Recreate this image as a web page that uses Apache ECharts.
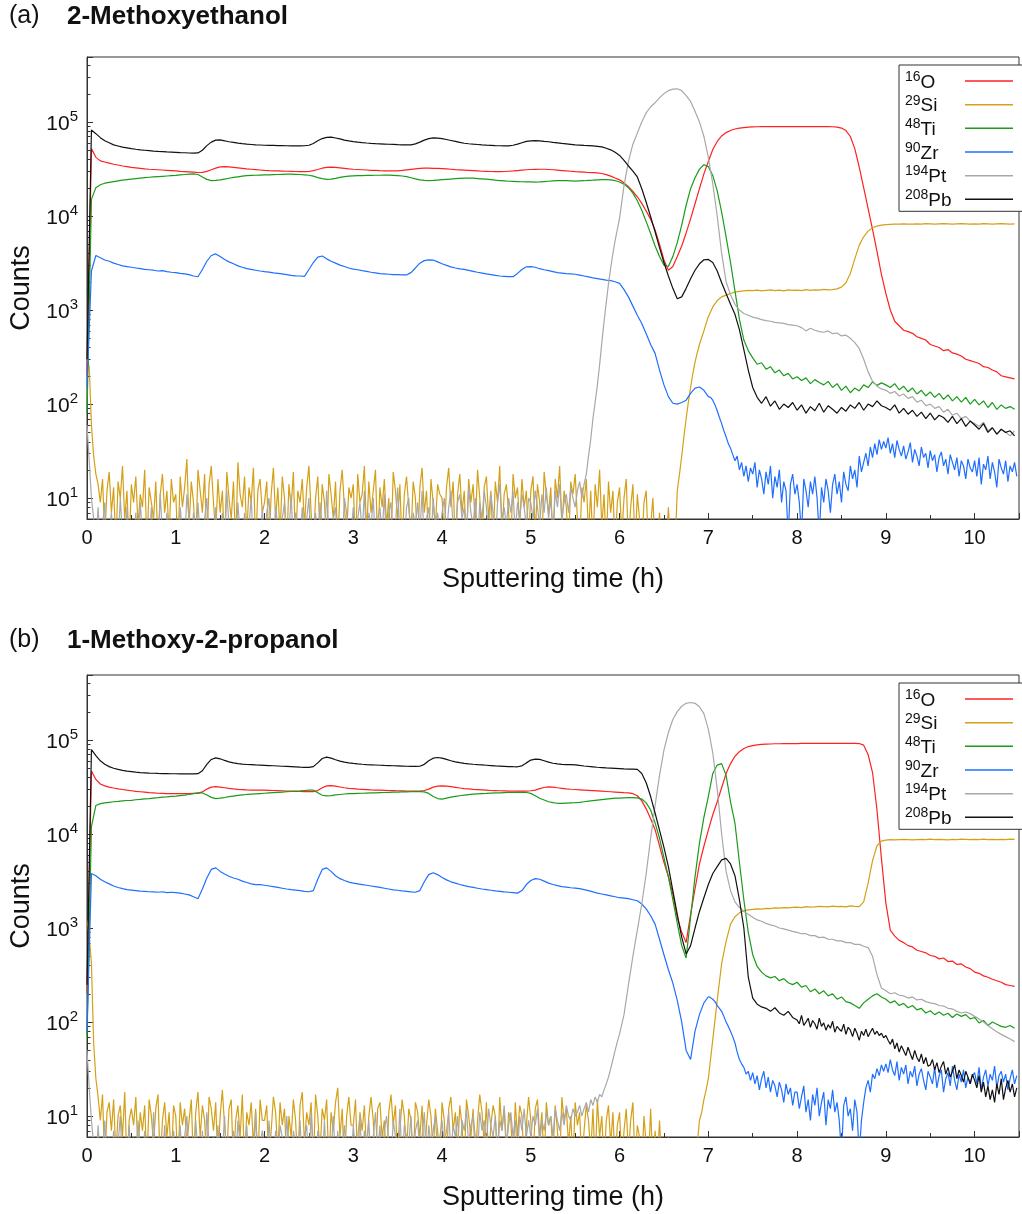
<!DOCTYPE html>
<html>
<head>
<meta charset="utf-8">
<title>SIMS depth profiles</title>
<script src="https://cdn.jsdelivr.net/npm/echarts@6/dist/echarts.min.js"></script>
<style>
    html, body { margin: 0; padding: 0; background: #fff; }
    #chart { width: 1022px; height: 1214px; }
</style>
</head>
<body>
<div id="chart"></div>
<script>
// isotopes, legend order
var masses = ['16', '29', '48', '90', '194', '208'];
var elements = ['O', 'Si', 'Ti', 'Zr', 'Pt', 'Pb'];
var colors = ['#ff2020', '#d4a017', '#1a9c1a', '#1f6fff', '#a8a8a8', '#111111'];
var names = masses.map(function (m, i) { return m + elements[i]; });

// panel titles
var panelTags = ['(a)', '(b)'];
var panelTitles = ['2-Methoxyethanol', '1-Methoxy-2-propanol'];

// axes
var xMin = 0, xMax = 10.5, xStep = 1;
var yMin = 6, yMax = 490000;

// counts: one row per hour (rows 0-9), last row = 10.0-10.5 h.
// rows of 20 values -> every 0.05 h, rows of 40 -> every 0.025 h (noisy parts)

// ---- (a) 2-Methoxyethanol ----
var aO = [
    [200, 52000, 42000, 38500, 37500, 36500, 35500, 34800, 34000, 33500, 32900, 32500, 32100, 31700, 31400, 31200, 31000, 30800, 30600, 30400],
    [30100, 29800, 29600, 29400, 29200, 29000, 29100, 29800, 31000, 32300, 33200, 33500, 33300, 32900, 32500, 32100, 31700, 31400, 31100, 30800],
    [30500, 30300, 30200, 30100, 30000, 29900, 29800, 29700, 29600, 29600, 29700, 30300, 31200, 32200, 32900, 33100, 32900, 32500, 32100, 31700],
    [31400, 31200, 31000, 30800, 30600, 30500, 30300, 30200, 30100, 30100, 30200, 30500, 30900, 31300, 31700, 32000, 32200, 32200, 32100, 32000],
    [31900, 31700, 31400, 31100, 30900, 30700, 30500, 30300, 30100, 29900, 29800, 29700, 29600, 29600, 29700, 29900, 30100, 30400, 30700, 31000],
    [31200, 31300, 31400, 31400, 31200, 31000, 30700, 30400, 30100, 29900, 29600, 29400, 29200, 29000, 28900, 28700, 28300, 27500, 26500, 25300],
    [24200, 22500, 20500, 18200, 16000, 13600, 11300, 9200, 7100, 5000, 3400, 2650, 2900, 3700, 4800, 6600, 9300, 13500, 19500, 28000],
    [38000, 51000, 62000, 71000, 77000, 81000, 84000, 86000, 87000, 88000, 88500, 88800, 89000, 89000, 89000, 89000, 89000, 89000, 89000, 89000],
    [89000, 89000, 89000, 89000, 89000, 89000, 89000, 89000, 88800, 88000, 86000, 81000, 70000, 52000, 33000, 20000, 12000, 7200, 4200, 2400],
    [1500, 1000, 760, 680, 610, 590, 565, 520, 500, 480, 430, 415, 400, 370, 380, 350, 340, 325, 300, 290],
    [280, 270, 250, 245, 230, 220, 200, 195, 190, 185]
];
var aSi = [
    [300, 250, 60, 28, 18, 14, 9, 16, 4, 12, 19, 7, 13, 3, 15, 10, 22, 6, 12, 3, 14, 9, 17, 5, 11, 8, 20, 3, 13, 9, 6, 15, 3, 11, 18, 7, 12, 4, 16, 9],
    [11, 3, 17, 8, 13, 26, 5, 15, 9, 3, 20, 12, 7, 18, 3, 14, 22, 9, 4, 16, 7, 12, 3, 19, 10, 6, 15, 3, 24, 11, 8, 17, 4, 13, 9, 21, 3, 12, 16, 7],
    [9, 15, 3, 11, 21, 6, 13, 4, 17, 10, 3, 14, 8, 19, 3, 12, 9, 16, 5, 13, 22, 7, 3, 10, 17, 4, 14, 9, 3, 18, 11, 6, 15, 3, 12, 20, 8, 4, 13, 10],
    [14, 3, 18, 9, 11, 22, 4, 15, 7, 12, 20, 3, 13, 8, 16, 5, 10, 3, 19, 12, 6, 14, 3, 11, 17, 8, 4, 15, 10, 3, 13, 21, 7, 12, 3, 16, 9, 5, 14, 11],
    [10, 4, 13, 21, 8, 15, 3, 11, 18, 7, 12, 3, 16, 9, 14, 5, 20, 10, 3, 13, 17, 6, 12, 3, 15, 9, 22, 4, 11, 14, 7, 3, 18, 10, 13, 5, 16, 8, 12, 3],
    [12, 17, 4, 14, 9, 3, 19, 11, 7, 13, 3, 16, 10, 22, 5, 12, 8, 3, 15, 11, 18, 6, 3, 13, 9, 16, 4, 12, 3, 14, 8, 20, 5, 11, 3, 15, 7, 12, 3, 9],
    [13, 4, 10, 16, 3, 8, 14, 3, 11, 6, 3, 9, 12, 3, 5, 10, 3, 3, 7, 3, 3, 3, 8, 3, 3, 3, 12, 18, 28, 45, 70, 105, 150, 210, 280, 350, 430, 510, 600, 720],
    [850, 1080, 1260, 1380, 1440, 1500, 1550, 1580, 1600, 1620, 1610, 1630, 1600, 1620, 1640, 1610, 1630, 1600, 1640, 1620],
    [1630, 1610, 1650, 1620, 1640, 1630, 1660, 1640, 1650, 1680, 1750, 1950, 2450, 3500, 4900, 6000, 6900, 7500, 7800, 8000],
    [8100, 8150, 8200, 8200, 8250, 8200, 8200, 8250, 8200, 8300, 8250, 8200, 8250, 8300, 8250, 8200, 8250, 8300, 8250, 8200],
    [8250, 8200, 8300, 8250, 8200, 8250, 8300, 8250, 8200, 8250]
];
var aTi = [
    [80, 15000, 20000, 21500, 22300, 22800, 23200, 23600, 24000, 24400, 24700, 25000, 25300, 25600, 25800, 26000, 26200, 26400, 26600, 26800],
    [27000, 27300, 27600, 27800, 28000, 27600, 26000, 24500, 23800, 23900, 24200, 24700, 25200, 25700, 26100, 26500, 26800, 27000, 27100, 27200],
    [27300, 27400, 27500, 27600, 27700, 27800, 27800, 27700, 27600, 27400, 27100, 26500, 25600, 24900, 24500, 24600, 25100, 25700, 26200, 26500],
    [26700, 26800, 26900, 27000, 27000, 27100, 27100, 27200, 27200, 27000, 26800, 26600, 26200, 25500, 24800, 24200, 23900, 23800, 23900, 24100],
    [24300, 24500, 24700, 24900, 25100, 25200, 25300, 25200, 25000, 24800, 24600, 24300, 24000, 23800, 23600, 23400, 23300, 23200, 23100, 23000],
    [23000, 22900, 23000, 23200, 23400, 23600, 23800, 23800, 23700, 23600, 23500, 23600, 23700, 23900, 24000, 24200, 24300, 24300, 24200, 23800],
    [23000, 21800, 20000, 17500, 14500, 11500, 8700, 6500, 4800, 3700, 3000, 2900, 3700, 5200, 8000, 13000, 19500, 25500, 31500, 35000],
    [33500, 27000, 18500, 11000, 6000, 3200, 1600, 800, 480, 370, 310, 265, 275, 235, 250, 215, 230, 200, 212, 185],
    [195, 178, 190, 165, 182, 170, 160, 174, 150, 165, 140, 155, 132, 148, 138, 160, 150, 172, 158, 168],
    [160, 150, 165, 142, 155, 135, 148, 128, 140, 122, 135, 118, 130, 112, 125, 108, 120, 105, 118, 100],
    [112, 98, 108, 92, 104, 88, 98, 90, 94, 88]
];
var aZr = [
    [150, 2600, 3800, 3600, 3400, 3300, 3150, 3050, 2950, 2900, 2850, 2800, 2750, 2700, 2680, 2650, 2600, 2620, 2560, 2520],
    [2500, 2450, 2420, 2380, 2300, 2260, 2700, 3300, 3800, 3950, 3700, 3450, 3250, 3100, 2950, 2850, 2760, 2700, 2650, 2600],
    [2560, 2530, 2480, 2450, 2420, 2380, 2340, 2310, 2300, 2280, 2700, 3200, 3650, 3750, 3500, 3300, 3150, 3000, 2900, 2800],
    [2720, 2680, 2620, 2580, 2520, 2480, 2440, 2420, 2400, 2380, 2380, 2370, 2360, 2500, 2800, 3150, 3350, 3420, 3400, 3250],
    [3100, 2980, 2880, 2800, 2740, 2700, 2640, 2580, 2520, 2470, 2420, 2380, 2340, 2300, 2280, 2260, 2260, 2450, 2700, 2880],
    [2900, 2850, 2750, 2680, 2620, 2560, 2500, 2470, 2440, 2420, 2400, 2350, 2300, 2250, 2200, 2160, 2120, 2080, 2050, 2000],
    [1920, 1650, 1380, 1100, 880, 720, 560, 430, 346, 230, 160, 120, 102, 100, 104, 110, 130, 148, 152, 140],
    [120, 118, 110, 98, 85, 72, 62, 52, 45, 38, 34, 29, 25, 28, 20, 24, 17, 22, 15, 21, 18, 24, 13, 20, 16, 11, 19, 14, 22, 10, 17, 13, 20, 9, 15, 12, 4, 14, 18, 11],
    [14, 9, 4, 16, 12, 8, 15, 11, 17, 10, 4, 13, 9, 16, 12, 7, 14, 18, 11, 15, 9, 19, 14, 12, 22, 16, 20, 13, 28, 19, 24, 30, 22, 35, 27, 38, 29, 42, 33, 40],
    [34, 44, 30, 38, 27, 41, 33, 28, 36, 26, 31, 39, 24, 33, 28, 22, 35, 27, 30, 21, 32, 25, 29, 19, 27, 31, 22, 26, 18, 29, 24, 20, 27, 17, 25, 22, 16, 26, 21, 19],
    [25, 17, 27, 14, 23, 20, 28, 16, 24, 19, 13, 26, 21, 18, 25, 15, 22, 19, 24, 17]
];
var aPt = [
    [60, 25, 10, 6, 3, 8, 3, 5, 9, 3, 4, 7, 3, 6, 3, 10, 4, 3, 8, 3, 5, 3, 7, 3, 9, 4, 3, 6, 3, 8, 3, 5, 3, 11, 4, 3, 7, 3, 6, 3],
    [5, 3, 8, 4, 3, 11, 6, 3, 7, 3, 9, 4, 3, 6, 10, 3, 5, 3, 8, 3, 4, 7, 3, 12, 5, 3, 6, 3, 9, 4, 3, 7, 3, 5, 10, 3, 6, 4, 3, 8],
    [3, 7, 10, 4, 3, 8, 5, 3, 6, 9, 3, 4, 11, 3, 7, 5, 3, 8, 3, 6, 10, 3, 4, 7, 3, 9, 5, 3, 12, 4, 3, 6, 8, 3, 5, 3, 10, 7, 3, 4],
    [8, 3, 6, 9, 4, 12, 3, 7, 5, 10, 3, 6, 8, 4, 11, 3, 7, 9, 3, 5, 13, 4, 6, 3, 8, 10, 3, 7, 5, 9, 4, 12, 3, 6, 8, 3, 10, 5, 7, 4],
    [7, 10, 4, 8, 12, 5, 3, 9, 11, 6, 8, 4, 13, 7, 5, 10, 3, 9, 6, 12, 8, 4, 11, 7, 3, 9, 14, 6, 8, 5, 10, 7, 12, 4, 9, 6, 11, 8, 5, 10],
    [9, 6, 12, 8, 5, 11, 7, 13, 6, 10, 4, 12, 8, 14, 6, 9, 11, 7, 13, 10, 8, 12, 15, 10, 14, 18, 28, 42, 70, 105, 160, 260, 450, 750, 1200, 1900, 2800, 4000, 5500, 7200],
    [9500, 21000, 38000, 58000, 76000, 100000, 125000, 145000, 160000, 180000, 200000, 215000, 223000, 225000, 215000, 190000, 165000, 130000, 100000, 70000],
    [42000, 22000, 10000, 4000, 2000, 1450, 1150, 1000, 920, 880, 840, 820, 790, 770, 760, 740, 730, 720, 700, 690],
    [680, 650, 600, 640, 610, 590, 580, 600, 560, 570, 530, 540, 500, 450, 390, 300, 220, 175, 155, 145],
    [140, 130, 136, 122, 128, 115, 120, 105, 110, 96, 100, 90, 94, 82, 88, 76, 80, 70, 74, 66],
    [62, 58, 64, 52, 56, 48, 54, 50, 46, 52]
];
var aPb = [
    [300, 82000, 75000, 68000, 63000, 60000, 57000, 55500, 54000, 53000, 52000, 51200, 50500, 50000, 49500, 49000, 48600, 48300, 48000, 47800],
    [47500, 47200, 47000, 46700, 46500, 46800, 50000, 56000, 61000, 64000, 64300, 63000, 61500, 60500, 59500, 58700, 58000, 57500, 57000, 56800],
    [56500, 56300, 56200, 56000, 55900, 55800, 55700, 55600, 55600, 55800, 56500, 59000, 63000, 66500, 68500, 68800, 67500, 66000, 64000, 62800],
    [61800, 61000, 60300, 59700, 59200, 58800, 58500, 58200, 57900, 57600, 57300, 57100, 57000, 57000, 58500, 61000, 64000, 66500, 67600, 67300],
    [66500, 65000, 63500, 62000, 60500, 59300, 58600, 58000, 57500, 57000, 56600, 56300, 56000, 55800, 55600, 55600, 56500, 58000, 60000, 62000],
    [63000, 63300, 63000, 62000, 61500, 60500, 59800, 59000, 58500, 57800, 57000, 56700, 56300, 56000, 55600, 55000, 54200, 52500, 50500, 47500],
    [44000, 39000, 34000, 30000, 26000, 19500, 14000, 9800, 6800, 4600, 3200, 2300, 1700, 1320, 1380, 1700, 2150, 2650, 3100, 3420],
    [3450, 3200, 2600, 1950, 1500, 1150, 900, 620, 380, 230, 150, 118, 102, 120, 95, 108, 88, 100, 92, 104],
    [86, 98, 80, 94, 85, 102, 82, 96, 88, 80, 92, 84, 98, 90, 104, 86, 100, 94, 108, 96],
    [92, 86, 98, 80, 90, 78, 86, 74, 82, 70, 80, 68, 76, 72, 64, 74, 62, 70, 58, 66],
    [60, 54, 62, 50, 56, 48, 54, 50, 52, 46]
];

// ---- (b) 1-Methoxy-2-propanol ----
var bO = [
    [200, 46800, 38000, 34000, 32500, 31500, 30800, 30200, 29700, 29200, 28800, 28400, 28100, 27800, 27500, 27300, 27100, 27000, 26900, 26900],
    [26800, 26800, 26900, 26900, 27000, 27000, 28000, 30000, 31500, 31900, 31500, 31000, 30500, 30100, 29800, 29600, 29400, 29300, 29300, 29200],
    [29200, 29100, 29000, 28900, 28800, 28600, 28500, 28400, 28300, 28200, 28200, 28200, 29000, 31000, 32500, 32700, 32200, 31600, 31000, 30600],
    [30300, 30000, 29800, 29600, 29400, 29300, 29200, 29100, 29000, 28900, 28800, 28700, 28600, 28500, 28500, 28600, 29000, 30000, 31500, 32300],
    [32500, 32300, 31800, 31300, 30800, 30400, 30100, 29800, 29600, 29400, 29200, 29000, 28900, 28800, 28700, 28600, 28600, 28500, 28500, 28600],
    [28800, 29300, 30300, 31200, 31700, 31500, 31000, 30600, 30200, 29900, 29700, 29500, 29300, 29100, 28900, 28700, 28500, 28300, 28100, 27900],
    [27700, 27500, 27400, 26800, 25500, 22500, 18500, 14500, 11100, 7500, 5000, 3530, 2300, 1300, 900, 700, 1400, 2600, 4800, 7400],
    [11000, 16000, 22000, 31000, 44000, 56000, 67000, 75000, 81000, 85000, 87000, 88500, 89500, 90000, 90500, 91000, 91000, 91500, 91500, 91500],
    [91500, 91700, 91700, 91700, 91700, 91700, 91700, 91700, 91700, 91700, 91700, 91700, 91700, 91700, 91500, 88000, 70000, 45000, 18000, 5500],
    [1840, 950, 820, 740, 700, 650, 630, 580, 563, 545, 510, 500, 470, 480, 440, 445, 410, 415, 385, 370],
    [340, 330, 310, 300, 285, 275, 265, 250, 245, 240]
];
var bSi = [
    [1200, 800, 420, 60, 25, 16, 9, 17, 3, 11, 14, 7, 15, 4, 10, 13, 6, 18, 3, 9, 12, 8, 16, 4, 11, 7, 13, 3, 15, 10, 5, 12, 17, 3, 9, 14, 6, 11, 3, 13],
    [10, 3, 14, 8, 12, 5, 9, 15, 3, 11, 18, 6, 13, 9, 3, 16, 12, 7, 14, 3, 10, 19, 8, 4, 12, 15, 3, 9, 13, 6, 17, 3, 11, 8, 14, 5, 12, 3, 15, 9],
    [9, 13, 3, 7, 16, 11, 4, 14, 8, 12, 3, 10, 6, 15, 9, 3, 13, 18, 5, 11, 8, 14, 3, 17, 10, 4, 12, 9, 15, 3, 11, 7, 14, 20, 6, 12, 3, 10, 16, 8],
    [8, 15, 3, 11, 7, 13, 4, 10, 16, 9, 3, 12, 14, 6, 9, 3, 11, 17, 8, 13, 3, 7, 15, 10, 4, 12, 9, 3, 14, 11, 6, 13, 3, 8, 15, 10, 4, 12, 7, 3],
    [14, 9, 3, 12, 16, 7, 11, 4, 13, 8, 3, 15, 10, 6, 12, 3, 9, 17, 11, 5, 14, 3, 8, 13, 10, 3, 16, 7, 12, 4, 11, 9, 3, 14, 6, 13, 10, 3, 8, 16],
    [9, 3, 12, 15, 6, 11, 3, 14, 8, 10, 4, 13, 7, 3, 16, 9, 12, 5, 10, 3, 14, 8, 11, 3, 7, 13, 9, 4, 12, 3, 15, 6, 10, 3, 9, 13, 5, 11, 3, 8],
    [11, 3, 7, 12, 4, 9, 14, 3, 8, 6, 3, 10, 5, 3, 12, 3, 7, 3, 9, 3, 3, 3, 6, 3, 3, 3, 3, 3, 3, 3, 3, 3, 3, 3, 3, 5, 9, 11, 15, 19],
    [25, 65, 170, 420, 720, 1100, 1320, 1450, 1520, 1560, 1580, 1600, 1590, 1620, 1610, 1640, 1630, 1650, 1640, 1660],
    [1670, 1650, 1690, 1670, 1680, 1700, 1690, 1680, 1710, 1690, 1700, 1680, 1720, 1700, 1690, 1900, 3000, 5200, 7500, 8400],
    [8600, 8700, 8650, 8700, 8750, 8700, 8650, 8700, 8750, 8700, 8800, 8700, 8750, 8700, 8650, 8750, 8700, 8800, 8750, 8700],
    [8750, 8700, 8800, 8700, 8750, 8700, 8750, 8700, 8800, 8750]
];
var bTi = [
    [70, 12000, 20100, 21000, 21400, 21700, 22000, 22200, 22500, 22700, 22800, 23100, 23300, 23600, 23800, 24100, 24300, 24600, 24800, 25100],
    [25300, 25600, 25900, 26300, 26800, 27400, 27300, 26000, 24500, 23800, 24000, 24400, 24900, 25300, 25700, 26000, 26300, 26500, 26700, 26900],
    [27100, 27300, 27500, 27700, 27900, 28100, 28300, 28500, 28700, 29000, 29300, 29200, 27500, 25800, 25400, 25600, 26000, 26300, 26600, 26800],
    [26900, 27000, 27100, 27200, 27300, 27400, 27500, 27600, 27700, 27800, 27900, 28000, 28000, 28100, 28200, 28200, 28000, 27000, 25000, 23800],
    [23500, 24000, 24600, 25100, 25500, 25900, 26200, 26500, 26700, 26900, 27000, 27200, 27300, 27400, 27500, 27600, 27600, 27700, 27700, 27600],
    [27000, 25500, 24000, 23000, 22000, 21500, 21200, 21200, 21300, 21400, 21500, 21700, 22000, 22300, 22600, 22900, 23200, 23500, 23800, 24000],
    [24100, 24200, 24300, 24300, 24200, 23500, 21400, 18000, 13100, 9000, 5600, 3500, 2000, 1125, 650, 480, 1300, 3500, 8000, 15000],
    [25000, 44000, 54000, 56000, 42000, 22000, 13000, 5000, 2000, 900, 520, 390, 340, 310, 295, 305, 275, 290, 262, 250],
    [265, 235, 245, 210, 225, 200, 215, 190, 200, 175, 185, 165, 160, 150, 140, 160, 175, 190, 200, 185],
    [175, 160, 168, 150, 158, 142, 150, 135, 140, 125, 132, 120, 128, 118, 124, 112, 122, 115, 120, 108],
    [112, 98, 104, 92, 100, 95, 90, 88, 92, 86]
];
var bZr = [
    [80, 3800, 3600, 3300, 3100, 2950, 2800, 2700, 2620, 2560, 2530, 2500, 2470, 2450, 2430, 2420, 2400, 2430, 2380, 2400],
    [2380, 2350, 2300, 2250, 2150, 2050, 2600, 3400, 4200, 4360, 4000, 3750, 3550, 3400, 3300, 3150, 3050, 2950, 2900, 2890],
    [2850, 2800, 2750, 2700, 2650, 2600, 2560, 2530, 2500, 2450, 2430, 2500, 3300, 4200, 4360, 4000, 3600, 3350, 3200, 3080],
    [3000, 2950, 2900, 2850, 2800, 2750, 2700, 2650, 2600, 2550, 2520, 2480, 2450, 2420, 2400, 2500, 3100, 3700, 3870, 3700],
    [3450, 3250, 3100, 3000, 2900, 2820, 2750, 2700, 2650, 2600, 2560, 2520, 2480, 2450, 2420, 2400, 2380, 2350, 2500, 2900],
    [3200, 3350, 3300, 3150, 3000, 2900, 2820, 2760, 2720, 2680, 2660, 2620, 2560, 2500, 2420, 2350, 2300, 2250, 2200, 2150],
    [2100, 2080, 2050, 2000, 1950, 1800, 1600, 1350, 1100, 760, 520, 360, 260, 170, 100, 50, 40, 80, 120, 160],
    [186, 182, 175, 165, 150, 140, 130, 115, 100, 90, 80, 70, 60, 48, 40, 36, 33, 28, 30, 24, 29, 22, 27, 19, 25, 30, 20, 26, 18, 24, 21, 16, 23, 19, 14, 22, 17, 20, 13, 18],
    [18, 12, 16, 21, 11, 15, 9, 17, 13, 20, 10, 14, 18, 8, 15, 12, 19, 11, 14, 9, 4, 13, 16, 10, 12, 7, 15, 11, 4, 9, 14, 20, 24, 18, 28, 25, 32, 27, 35, 30],
    [36, 29, 40, 31, 27, 38, 24, 33, 28, 35, 22, 30, 26, 34, 21, 28, 32, 24, 19, 30, 26, 22, 33, 20, 27, 31, 18, 25, 29, 21, 34, 24, 19, 28, 23, 31, 20, 26, 22, 27],
    [29, 22, 33, 19, 26, 31, 21, 28, 24, 34, 20, 27, 30, 23, 28, 19, 25, 31, 22, 27]
];
var bPt = [
    [50, 20, 9, 5, 3, 8, 3, 4, 9, 3, 6, 3, 7, 3, 5, 10, 3, 4, 3, 8, 3, 6, 3, 9, 4, 3, 7, 3, 5, 3, 11, 3, 6, 4, 3, 8, 3, 5, 3, 7],
    [4, 3, 8, 3, 6, 10, 3, 5, 3, 9, 4, 3, 7, 3, 11, 5, 3, 6, 3, 8, 3, 4, 10, 3, 6, 3, 7, 3, 9, 5, 3, 4, 8, 3, 6, 3, 11, 3, 5, 7],
    [5, 3, 9, 4, 3, 7, 3, 8, 6, 3, 10, 4, 3, 7, 5, 3, 9, 3, 6, 8, 3, 11, 4, 3, 7, 5, 3, 9, 3, 6, 4, 10, 3, 7, 3, 5, 8, 3, 6, 3],
    [8, 4, 6, 10, 3, 7, 5, 9, 3, 6, 11, 4, 8, 3, 7, 10, 5, 3, 9, 6, 4, 12, 3, 8, 6, 5, 10, 3, 7, 9, 4, 6, 11, 3, 8, 5, 7, 10, 4, 6],
    [9, 5, 7, 11, 4, 8, 6, 10, 3, 9, 7, 12, 5, 8, 10, 6, 4, 11, 7, 9, 5, 12, 8, 6, 10, 4, 9, 7, 13, 5, 8, 11, 6, 9, 4, 10, 7, 12, 6, 9],
    [6, 10, 8, 12, 5, 9, 7, 11, 8, 10, 6, 12, 9, 7, 11, 8, 13, 10, 9, 12, 10, 11, 13, 10, 12, 14, 11, 15, 13, 16, 14, 17, 16, 19, 22, 26, 32, 40, 50, 62],
    [75, 120, 250, 500, 950, 1800, 3800, 9000, 20000, 42000, 78000, 120000, 165000, 200000, 228000, 245000, 250000, 245000, 225000, 190000],
    [130000, 73000, 30000, 10000, 4000, 2500, 1900, 1650, 1500, 1400, 1300, 1220, 1180, 1120, 1080, 1050, 1000, 980, 950, 920],
    [900, 870, 870, 830, 830, 790, 800, 760, 760, 730, 730, 700, 700, 670, 670, 640, 620, 500, 320, 230],
    [215, 200, 205, 193, 190, 180, 185, 172, 175, 165, 160, 157, 150, 148, 140, 138, 130, 125, 128, 123],
    [115, 108, 100, 92, 85, 79, 74, 70, 66, 62]
];
var bPb = [
    [250, 78800, 68000, 60000, 55000, 52000, 50000, 48700, 47500, 46600, 46000, 45400, 45000, 44700, 44400, 44200, 44000, 43900, 43800, 43700],
    [43700, 43600, 43600, 43600, 43600, 43800, 47000, 55000, 62000, 64500, 63000, 60500, 58500, 57000, 56000, 55200, 54800, 54500, 54200, 54000],
    [53700, 53400, 53100, 52800, 52500, 52200, 51900, 51600, 51300, 51100, 51000, 52000, 57000, 63500, 65600, 64000, 61500, 59500, 58000, 57000],
    [56200, 55600, 55100, 54700, 54400, 54100, 53800, 53500, 53300, 53100, 52900, 52700, 52500, 52300, 52200, 52500, 55000, 60000, 64000, 65000],
    [64000, 62000, 60000, 58500, 57300, 56400, 55700, 55100, 54600, 54200, 53800, 53400, 53000, 52700, 52400, 52100, 51900, 51800, 53000, 57000],
    [61000, 62500, 62000, 60000, 58000, 56500, 55500, 54900, 54500, 54700, 54300, 53500, 52800, 52200, 51700, 51200, 50800, 50400, 50100, 49800],
    [49500, 49200, 49000, 48800, 48600, 44000, 35000, 25000, 16700, 11000, 7200, 4500, 2500, 1400, 800, 530, 650, 1000, 1500, 2100],
    [2900, 3800, 4500, 5300, 5500, 4800, 3600, 2000, 1000, 300, 180, 155, 145, 140, 130, 142, 125, 118, 130, 112],
    [105, 96, 118, 92, 100, 110, 88, 104, 96, 84, 110, 90, 98, 82, 94, 86, 102, 78, 90, 84, 80, 95, 74, 88, 82, 70, 86, 76, 64, 80, 72, 84, 70, 78, 86, 74, 80, 72, 76, 68],
    [72, 64, 58, 66, 52, 60, 48, 56, 50, 44, 54, 46, 40, 50, 42, 38, 46, 36, 42, 34, 35, 40, 31, 37, 29, 34, 38, 28, 33, 26, 30, 35, 25, 31, 27, 23, 30, 26, 22, 28],
    [24, 20, 27, 18, 23, 16, 21, 15, 19, 14, 22, 17, 25, 15, 20, 24, 18, 22, 16, 20]
];

var panelData = [
    [aO, aSi, aTi, aZr, aPt, aPb],
    [bO, bSi, bTi, bZr, bPt, bPb]
];

// layout
var font = 'Liberation Sans, Arial, Helvetica, sans-serif';
var ink = '#111';
var frame = '#333';
var gridLeft = 87, gridWidth = 948, gridHeight = 462;
var gridTops = [57, 675];
var titleTops = [4, 628];
var legendTops = [65, 683];

// [time, counts] pairs; full rows span one hour, the last row half an hour
function toPairs(rows) {
    var out = [];
    rows.forEach(function (row, h) {
        var step = (h === rows.length - 1 ? 0.5 : 1) / row.length;
        row.forEach(function (v, j) {
            out.push([+(h + j * step).toFixed(3), v]);
        });
    });
    return out;
}

function powLabel(v) {
    var e = Math.log10(v);
    if (Math.abs(e - Math.round(e)) > 1e-6) return '';
    return '{b|10}{s|' + Math.round(e) + '}';
}

var myChart = echarts.init(document.getElementById('chart'), null, { renderer: 'canvas' });

var grid = [], xAxis = [], yAxis = [], series = [], legend = [], title = [];

gridTops.forEach(function (top, g) {
    grid.push({
        left: gridLeft, top: top, width: gridWidth, height: gridHeight,
        show: true, borderColor: frame, borderWidth: 1, backgroundColor: 'transparent'
    });

    xAxis.push({
        type: 'value', gridIndex: g, min: xMin, max: xMax, interval: xStep,
        name: 'Sputtering time (h)', nameLocation: 'middle', nameGap: 47,
        nameTextStyle: { fontSize: 27, color: ink, fontFamily: font },
        axisLine: { show: true, onZero: false, lineStyle: { color: frame, width: 1 } },
        axisTick: { show: true, inside: true, length: 6, lineStyle: { color: frame } },
        minorTick: { show: true, splitNumber: 2, length: 4, lineStyle: { color: frame } },
        splitLine: { show: false },
        minorSplitLine: { show: false },
        axisLabel: {
            fontSize: 20, color: ink, margin: 9, fontFamily: font,
            formatter: function (v) { return Math.abs(v - Math.round(v)) < 1e-6 ? String(Math.round(v)) : ''; }
        }
    });

    yAxis.push({
        type: 'log', logBase: 10, gridIndex: g, min: yMin, max: yMax,
        name: 'Counts', nameLocation: 'middle', nameGap: 50,
        nameTextStyle: { fontSize: 27, color: ink, fontFamily: font },
        axisLine: { show: true, lineStyle: { color: frame, width: 1 } },
        axisTick: { show: true, inside: true, length: 6, lineStyle: { color: frame } },
        splitLine: { show: false },
        axisLabel: {
            margin: 9, formatter: powLabel,
            rich: {
                b: { fontSize: 21, lineHeight: 26, verticalAlign: 'bottom', color: ink, fontFamily: font },
                s: { fontSize: 15, lineHeight: 15, verticalAlign: 'top', color: ink, fontFamily: font }
            }
        }
    });

    panelData[g].forEach(function (rows, k) {
        series.push({
            name: names[k], type: 'line', xAxisIndex: g, yAxisIndex: g,
            data: toPairs(rows), color: colors[k],
            symbol: 'none', showSymbol: false, sampling: null,
            lineStyle: { width: 1.2, color: colors[k] },
            clip: true, silent: true
        });
    });

    legend.push({
        orient: 'vertical', left: 899, top: legendTops[g], align: 'right',
        padding: [5, 12, 1, 6], itemGap: 1.66, itemWidth: 48, itemHeight: 1.5,
        icon: 'rect', borderColor: frame, borderWidth: 1, backgroundColor: '#fff',
        data: names, selectedMode: false,
        formatter: function (name) {
            var i = names.indexOf(name);
            return '{s|' + masses[i] + '}{e|' + elements[i] + '}';
        },
        textStyle: {
            width: 55, color: ink, fontFamily: font,
            rich: {
                s: { fontSize: 14, lineHeight: 13, verticalAlign: 'top', align: 'left', color: ink, fontFamily: font },
                e: { fontSize: 19, lineHeight: 22, verticalAlign: 'bottom', align: 'left', color: ink, fontFamily: font }
            }
        }
    });

    title.push({
        text: panelTags[g], left: 9, top: titleTops[g], padding: 0,
        textStyle: { fontSize: 25, fontWeight: 'normal', color: ink, fontFamily: font }
    });
    title.push({
        text: panelTitles[g], left: 67, top: titleTops[g], padding: 0,
        textStyle: { fontSize: 26, fontWeight: 'bold', color: ink, fontFamily: font }
    });
});

var option = {
    animation: false,
    backgroundColor: '#fff',
    textStyle: { fontFamily: font },
    title: title,
    legend: legend,
    grid: grid,
    xAxis: xAxis,
    yAxis: yAxis,
    series: series
};
myChart.setOption(option);

// minor ticks of the log axes (2..9 in every decade)
var ticks = [];
gridTops.forEach(function (top, g) {
    var x0 = myChart.convertToPixel({ xAxisIndex: g }, xMin);
    for (var d = 0; d <= 5; d++) {
        for (var k = 2; k <= 9; k++) {
            var v = k * Math.pow(10, d);
            if (v < yMin || v > yMax) continue;
            var y = Math.round(myChart.convertToPixel({ yAxisIndex: g }, v)) + 0.5;
            ticks.push({
                type: 'line', silent: true,
                shape: { x1: x0, y1: y, x2: x0 + 3.5, y2: y },
                style: { stroke: frame, lineWidth: 1 }
            });
        }
    }
});
myChart.setOption({ graphic: ticks });
</script>
</body>
</html>
